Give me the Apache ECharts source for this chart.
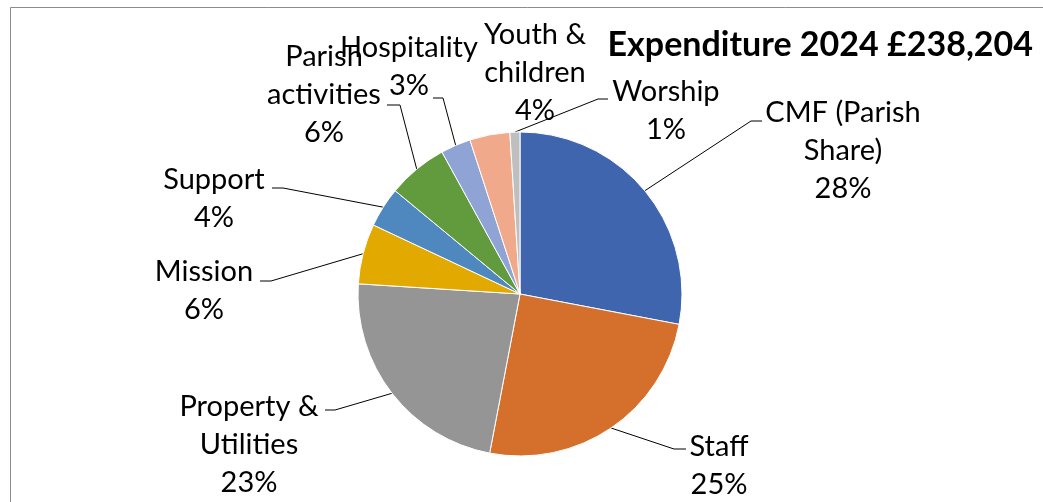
<!DOCTYPE html>
<html><head><meta charset="utf-8">
<script src="https://cdn.jsdelivr.net/npm/echarts@6/dist/echarts.min.js"></script>
<style>html,body{margin:0;padding:0;background:#fff}#c{width:1043px;height:502px}</style>
</head><body><div id="c"></div>
<script>
const titleText = 'Expenditure 2024 £238,204';
const categories = ['CMF (Parish\nShare)', 'Staff', 'Property &\nUtilities', 'Mission', 'Support', 'Parish\nactivities', 'Hospitality', 'Youth &\nchildren', 'Worship'];
const values = [28, 25, 23, 6, 4, 6, 3, 4, 1];
const colors = ['#3F65AE', '#D5702C', '#959595', '#E2AA00', '#4E88BF', '#629B3D', '#8FA3D5', '#F0A98B', '#BFBFBF'];
// label placement (layout only): [centerX, topY, elbowX, elbowY, endX]
const labelPlace = [
  [843, 94, 751, 121, 762],
  [719, 428, 674, 449, 686],
  [249, 388, 335, 410, 325],
  [204, 253, 271, 281, 260],
  [214, 161, 283, 188, 272],
  [324, 38, 400, 105, 387],
  [409, 29, 443, 98, 433],
  [535, 16],
  [666, 73, 598, 99, 608]
];
const FONT = 'Lato';
const chart = echarts.init(document.getElementById('c'), null, {renderer: 'canvas'});
const data = categories.map((n, i) => ({
  name: n, value: values[i],
  itemStyle: {color: colors[i]},
  labelLine: {show: labelPlace[i].length > 2}
}));
chart.setOption({
  animation: false,
  backgroundColor: '#fff',
  title: {
    text: titleText, right: 10, top: 28, padding: 0,
    textStyle: {fontFamily: FONT, fontWeight: 'bold', fontSize: 34, color: '#000'}
  },
  graphic: [{
    type: 'rect', silent: true,
    shape: {x: 10.5, y: 7.5, width: 1200, height: 700},
    style: {fill: 'none', stroke: '#8C8C8C', lineWidth: 1}
  }],
  series: [{
    type: 'pie',
    center: [520, 294], radius: 162,
    startAngle: 90, clockwise: true,
    avoidLabelOverlap: false,
    itemStyle: {borderColor: '#fff', borderWidth: 1},
    label: {
      show: true, position: 'outside',
      fontFamily: FONT, fontSize: 29, lineHeight: 38, color: '#000',
      formatter: p => p.name + '\n' + Math.round(p.percent) + '%'
    },
    labelLine: {show: true, length: 10, length2: 10, lineStyle: {color: '#000', width: 1}},
    labelLayout: function (p) {
      const L = labelPlace[p.dataIndex];
      const res = {x: L[0], y: L[1], align: 'center', verticalAlign: 'top'};
      if (L.length > 2 && p.labelLinePoints) {
        res.labelLinePoints = [p.labelLinePoints[0], [L[2], L[3]], [L[4], L[3]]];
      }
      return res;
    },
    data: data
  }]
});
</script>
</body></html>
